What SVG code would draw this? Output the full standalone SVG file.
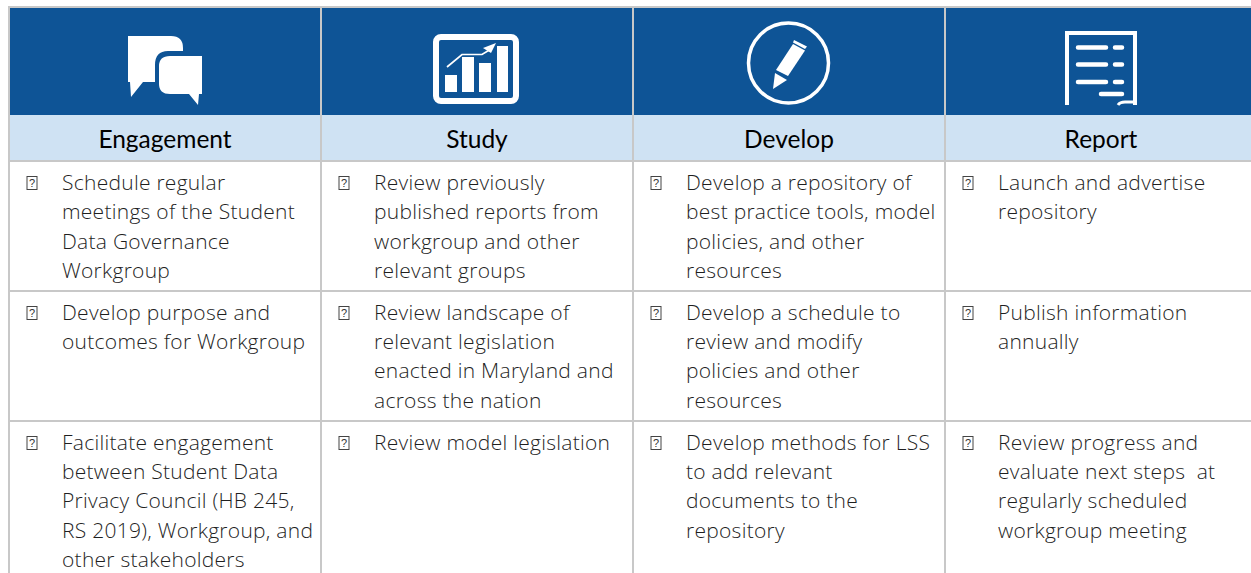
<svg xmlns="http://www.w3.org/2000/svg" width="1251" height="573" viewBox="0 0 1251 573">
<style>
.t{font-family:"Open Sans","Noto Sans",sans-serif;font-weight:300;font-size:21px;letter-spacing:.27px;fill:#1f1f1f}
.h{font-family:Lato,"Open Sans",sans-serif;font-size:24.500px;fill:#000;text-anchor:middle}
.q{font-family:"Liberation Sans",sans-serif;font-size:11px;fill:#333;text-anchor:middle}
.b{fill:none;stroke:#444;stroke-width:1}
.g{stroke:#c8c8c8;stroke-width:2;fill:none}
.w{fill:#fff}
.wl{fill:none;stroke:#fff}
</style>
<defs>
<g id="bul"><rect class="b" x="-5" y="-6.500" width="10" height="13"/><text class="q" x="0" y="4">?</text></g>
</defs>
<rect width="1251" height="573" fill="#fff"/>
<g id="bands">
<rect x="9" y="8" width="1242" height="107" fill="#0e5496"/>
<rect x="9" y="115" width="1242" height="45" fill="#cfe2f3"/>
</g>
<g id="grid">
<path class="g" d="M8 7H1251M9 7V573M321 7V573M633 7V573M945 7V573M9 161H1251M9 291H1251M9 421H1251"/>
</g>
<g id="icon-engagement">
<path class="w" d="M128 36H171Q183 36 183 48V51H168Q155 51 155 65V82H143L131 97L130 82H128Z"/>
<path class="w" d="M202 56V94H199L198 105L189 94H170Q159 94 159 84V66Q159 56 170 56Z"/>
</g>
<g id="icon-study">
<rect x="436" y="37" width="80" height="64" rx="5" fill="none" stroke="#fff" stroke-width="6"/>
<rect class="w" x="445" y="75" width="12" height="17"/>
<rect class="w" x="462" y="57" width="12" height="35"/>
<rect class="w" x="479" y="63" width="12" height="29"/>
<rect class="w" x="497" y="46" width="11" height="46"/>
<path class="wl" stroke-width="1.700" d="M447 67L462 54.500H482L491 49"/>
<path class="w" d="M496 43L483 48L491 53Z"/>
</g>
<g id="icon-develop">
<circle cx="788.500" cy="63" r="40" fill="none" stroke="#fff" stroke-width="3.500"/>
<path class="w" d="M793 44L805 50.500L788 76L776 70Z"/>
<path class="w" d="M794 40L807 46.500L805 49L793 42.500Z"/>
<path class="w" d="M775 73L787 80L773 89Z"/>
</g>
<g id="icon-report">
<path class="wl" stroke-width="4" d="M1067 105V33H1135V105"/>
<path class="wl" stroke-width="3" d="M1118 105Q1120 102 1125 102H1135"/>
<path class="wl" stroke-width="4.500" stroke-linecap="round" d="M1078 47.500H1106M1115 47.500H1122M1078 64.500H1106M1115 64.500H1122M1078 82H1106M1115 82H1122M1101 94H1122"/>
</g>
<g id="header-labels">
<text class="h" x="165" y="147.500">Engagement</text>
<text class="h" x="477" y="147.500">Study</text>
<text class="h" x="789" y="147.500">Develop</text>
<text class="h" x="1101" y="147.500">Report</text>
</g>
<g id="col-engagement">
<use href="#bul" x="32" y="183"/>
<text class="t" x="62" y="190">Schedule regular</text>
<text class="t" x="62" y="219">meetings of the Student</text>
<text class="t" x="62" y="249">Data Governance</text>
<text class="t" x="62" y="278">Workgroup</text>
<use href="#bul" x="32" y="313"/>
<text class="t" x="62" y="320">Develop purpose and</text>
<text class="t" x="62" y="349">outcomes for Workgroup</text>
<use href="#bul" x="32" y="443"/>
<text class="t" x="62" y="450">Facilitate engagement</text>
<text class="t" x="62" y="479">between Student Data</text>
<text class="t" x="62" y="508">Privacy Council (HB 245,</text>
<text class="t" x="62" y="538">RS 2019), Workgroup, and</text>
<text class="t" x="62" y="567">other stakeholders</text>
</g>
<g id="col-study">
<use href="#bul" x="344" y="183"/>
<text class="t" x="374" y="190">Review previously</text>
<text class="t" x="374" y="219">published reports from</text>
<text class="t" x="374" y="249">workgroup and other</text>
<text class="t" x="374" y="278">relevant groups</text>
<use href="#bul" x="344" y="313"/>
<text class="t" x="374" y="320">Review landscape of</text>
<text class="t" x="374" y="349">relevant legislation</text>
<text class="t" x="374" y="378">enacted in Maryland and</text>
<text class="t" x="374" y="408">across the nation</text>
<use href="#bul" x="344" y="443"/>
<text class="t" x="374" y="450">Review model legislation</text>
</g>
<g id="col-develop">
<use href="#bul" x="656" y="183"/>
<text class="t" x="686" y="190">Develop a repository of</text>
<text class="t" x="686" y="219">best practice tools, model</text>
<text class="t" x="686" y="249">policies, and other</text>
<text class="t" x="686" y="278">resources</text>
<use href="#bul" x="656" y="313"/>
<text class="t" x="686" y="320">Develop a schedule to</text>
<text class="t" x="686" y="349">review and modify</text>
<text class="t" x="686" y="378">policies and other</text>
<text class="t" x="686" y="408">resources</text>
<use href="#bul" x="656" y="443"/>
<text class="t" x="686" y="450">Develop methods for LSS</text>
<text class="t" x="686" y="479">to add relevant</text>
<text class="t" x="686" y="508">documents to the</text>
<text class="t" x="686" y="538">repository</text>
</g>
<g id="col-report">
<use href="#bul" x="968" y="183"/>
<text class="t" x="998" y="190">Launch and advertise</text>
<text class="t" x="998" y="219">repository</text>
<use href="#bul" x="968" y="313"/>
<text class="t" x="998" y="320">Publish information</text>
<text class="t" x="998" y="349">annually</text>
<use href="#bul" x="968" y="443"/>
<text class="t" x="998" y="450">Review progress and</text>
<text class="t" x="998" y="479" xml:space="preserve">evaluate next steps  at</text>
<text class="t" x="998" y="508">regularly scheduled</text>
<text class="t" x="998" y="538">workgroup meeting</text>
</g>
</svg>
